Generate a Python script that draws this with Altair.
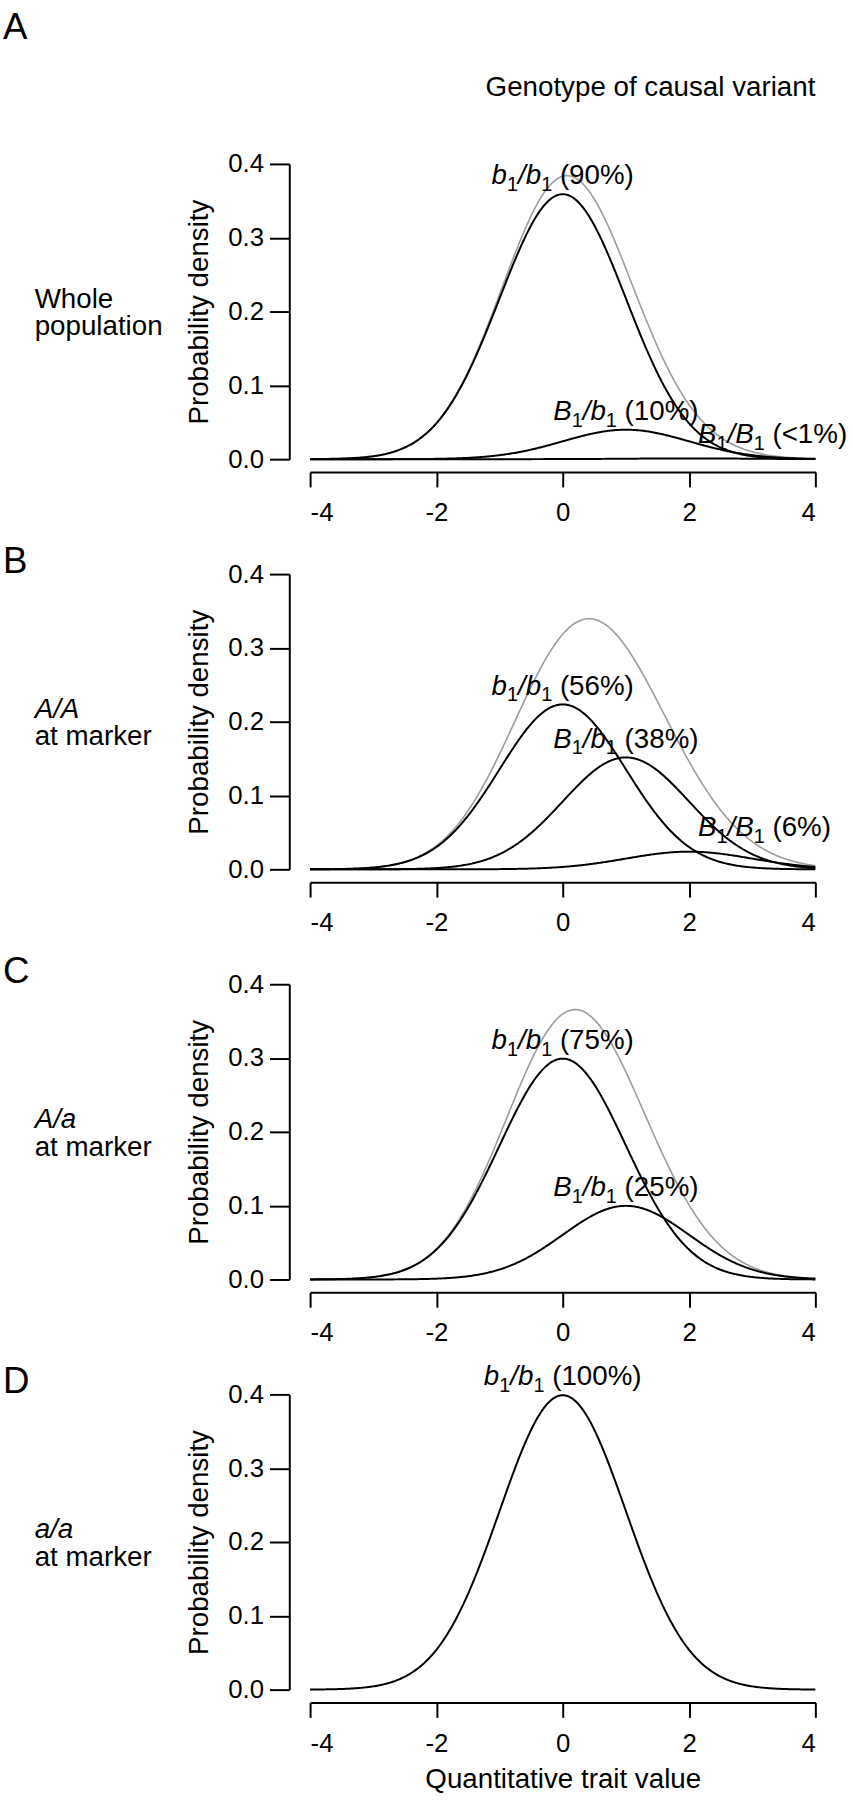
import numpy as np
import pandas as pd
import altair as alt

FONT = "Liberation Sans"

# trait values on which the genotype densities are evaluated
trait_grid = np.round(np.linspace(-4, 4, 401), 3)

# genotype classes of the causal variant: (allele 1, allele 2) and trait mean (SD = 1)
genotype_alleles = [("b", "b"), ("B", "b"), ("B", "B")]
genotype_means = [0.0, 1.0, 2.0]

# genotype frequencies per panel, and the percentages printed next to each curve
panel_letters = ["A", "B", "C", "D"]
panel_freqs = [
    [0.90, 0.10, 0.0025],
    [0.56, 0.38, 0.06],
    [0.75, 0.25],
    [1.00],
]
panel_pct_labels = [
    ["(90%)", "(10%)", "(<1%)"],
    ["(56%)", "(38%)", "(6%)"],
    ["(75%)", "(25%)"],
    ["(100%)"],
]
row_line1 = ["Whole", "A/A", "A/a", "a/a"]
row_line1_italic = [False, True, True, True]
row_line2 = ["population", "at marker", "at marker", "at marker"]

y_ticks = [0.0, 0.1, 0.2, 0.3, 0.4]
x_ticks = [-4, -2, 0, 2, 4]

W, H = 510, 298
LABEL_SIZE = 28
SUB_SIZE = 20

# Arial advance widths (em) used to lay out the mixed-style curve labels
ADV = {"b": 0.556, "B": 0.667, "/": 0.278, " ": 0.278, "(": 0.333,
       ")": 0.333, "%": 0.889, "<": 0.584}


def text_width(s, size):
    return sum(ADV.get(c, 0.556) for c in s) * size


def normal_pdf(x, mu):
    return np.exp(-0.5 * (x - mu) ** 2) / np.sqrt(2 * np.pi)


def label_pieces(alleles, pct):
    """(text, italic, font size, baseline shift) for e.g. b1/b1 (90%)."""
    a1, a2 = alleles
    return [
        (a1, True, LABEL_SIZE, 0),
        ("1", False, SUB_SIZE, 7),
        ("/" + a2, True, LABEL_SIZE, 0),
        ("1", False, SUB_SIZE, 7),
        (" ", False, LABEL_SIZE, 0),
        (pct, False, LABEL_SIZE, 0),
    ]


def make_panel(idx):
    freqs = panel_freqs[idx]
    pcts = panel_pct_labels[idx]
    last = idx == len(panel_letters) - 1

    frames = []
    for k, w in enumerate(freqs):
        frames.append(pd.DataFrame({
            "x": trait_grid,
            "y": w * normal_pdf(trait_grid, genotype_means[k]),
            "curve": "".join(genotype_alleles[k]),
        }))
    curves = pd.concat(frames, ignore_index=True)
    total = curves.groupby("x", as_index=False)["y"].sum()

    xscale = alt.Scale(domain=[-4, 4], nice=False, zero=False)
    yscale = alt.Scale(domain=[0, 0.4], nice=False, zero=False)

    xaxis_kw = dict(values=x_ticks, offset=13, tickSize=15, labelPadding=13,
                    labelFontSize=26,
                    labelExpr="datum.value < 0 ? '-' + abs(datum.value) : '' + datum.value")
    if last:
        xaxis_kw.update(titleX=W / 2, titleY=86, titleBaseline="alphabetic",
                        titleAlign="center", titleFontSize=28)
    xaxis = alt.Axis(**xaxis_kw)
    yaxis = alt.Axis(values=y_ticks, format=".1f", offset=21, tickSize=20,
                     labelPadding=6, labelFontSize=26, titleFontSize=28,
                     titleAngle=270, titleX=-91, titleY=H / 2,
                     titleAlign="center", titleBaseline="middle")

    def X():
        return alt.X("x:Q", scale=xscale, axis=xaxis,
                     title="Quantitative trait value" if last else None)

    def Y():
        return alt.Y("y:Q", scale=yscale, axis=yaxis, title="Probability density")

    layers = []
    if len(freqs) > 1:
        layers.append(alt.Chart(total).mark_line(
            color="#9c9c9c", strokeWidth=1.6).encode(x=X(), y=Y()))
    layers.append(alt.Chart(curves).mark_line(color="black", strokeWidth=2).encode(
        x=X(), y=Y(), detail="curve:N"))

    # curve labels: italic alleles with upright subscripts, then the percentage
    for k, w in enumerate(freqs):
        pieces = label_pieces(genotype_alleles[k], pcts[k])
        total_w = sum(text_width(t, s) for t, _, s, _ in pieces)
        if k < 2:
            start, lift = -total_w / 2, -10
        else:
            start, lift = 9, -16
        anchor = pd.DataFrame({"x": [genotype_means[k]],
                               "y": [w * normal_pdf(0.0, 0.0)]})
        cum = start
        for t, italic, size, shift in pieces:
            if t.strip():
                layers.append(alt.Chart(anchor).mark_text(
                    font=FONT, fontSize=size,
                    fontStyle="italic" if italic else "normal",
                    align="left", baseline="alphabetic",
                    dx=cum, dy=lift + shift, color="black", text=t,
                ).encode(x=X(), y=Y()))
            cum += text_width(t, size)

    # panel letter
    letter_y = -126 if idx == 0 else -1
    layers.append(alt.Chart(pd.DataFrame({"t": [panel_letters[idx]]})).mark_text(
        font=FONT, fontSize=37, align="left", baseline="alphabetic", color="black"
    ).encode(x=alt.value(-310), y=alt.value(letter_y), text="t:N"))

    # row description on the left
    layers.append(alt.Chart(pd.DataFrame({"t": [row_line1[idx]]})).mark_text(
        font=FONT, fontSize=LABEL_SIZE, align="left", baseline="alphabetic",
        fontStyle="italic" if row_line1_italic[idx] else "normal", color="black"
    ).encode(x=alt.value(-278), y=alt.value(145), text="t:N"))
    layers.append(alt.Chart(pd.DataFrame({"t": [row_line2[idx]]})).mark_text(
        font=FONT, fontSize=LABEL_SIZE, align="left", baseline="alphabetic",
        color="black"
    ).encode(x=alt.value(-278), y=alt.value(173), text="t:N"))

    if idx == 0:
        layers.append(alt.Chart(pd.DataFrame({"t": ["Genotype of causal variant"]})).mark_text(
            font=FONT, fontSize=LABEL_SIZE, align="right", baseline="alphabetic",
            color="black"
        ).encode(x=alt.value(W), y=alt.value(-69), text="t:N"))

    return alt.layer(*layers).properties(width=W, height=H)


panels = [make_panel(i) for i in range(len(panel_letters))]

chart = alt.vconcat(*panels, spacing=116, bounds="flush").configure_view(
    stroke=None
).configure_axis(
    grid=False, domainColor="black", domainWidth=2, tickColor="black",
    tickWidth=2, labelColor="black", titleColor="black", labelFont=FONT,
    titleFont=FONT, titleFontWeight="normal"
).properties(
    padding={"left": 3, "top": 1, "right": 5, "bottom": 5},
    background="white",
)

chart.save("out.html", embed_options={"renderer": "svg", "actions": False})
